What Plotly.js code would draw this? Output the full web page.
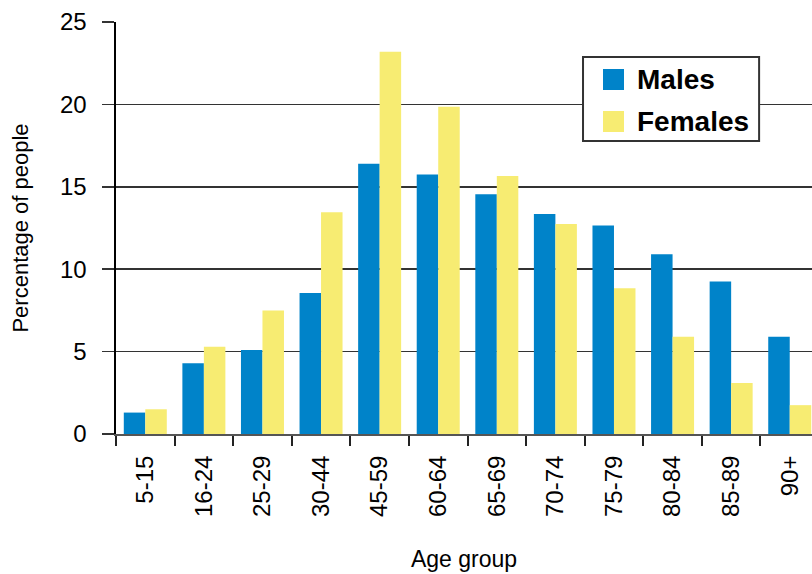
<!DOCTYPE html>
<html>
<head>
<meta charset="utf-8">
<script src="https://cdn.plot.ly/plotly-3.0.1.min.js"></script>
<style>
html,body{margin:0;padding:0;background:#fff;}
#chart{width:812px;height:574px;}
</style>
</head>
<body>
<div id="chart"></div>
<script>
const ageGroups = ["5-15","16-24","25-29","30-44","45-59","60-64","65-69","70-74","75-79","80-84","85-89","90+"];
const males   = [1.3, 4.3, 5.1, 8.55, 16.4, 15.75, 14.55, 13.35, 12.65, 10.9, 9.25, 5.9];
const females = [1.5, 5.3, 7.5, 13.45, 23.2, 19.85, 15.65, 12.75, 8.85, 5.9, 3.1, 1.75];
const seriesNames = ["Males", "Females"];
const seriesColors = ["#0083C9", "#F7EC72"];
const yTicks = [0, 5, 10, 15, 20, 25];

const FONT = '"Liberation Sans", Arial, sans-serif';

const traces = [
  {type: "bar", name: seriesNames[0], x: ageGroups, y: males,
   marker: {color: seriesColors[0], line: {width: 0}}, showlegend: false, hoverinfo: "x+y"},
  {type: "bar", name: seriesNames[1], x: ageGroups, y: females,
   marker: {color: seriesColors[1], line: {width: 0}}, showlegend: false, hoverinfo: "x+y"}
];

// legend drawn from the series names/colours (paper coordinates)
const legX0 = 0.671, legX1 = 0.924, legY0 = 0.711, legY1 = 0.915;
const swX0 = 0.6997, swX1 = 0.7299;
const rowY = [0.8604, 0.7585];
const swH = 0.0255;
const shapes = [
  {type: "rect", xref: "paper", yref: "paper", x0: legX0, x1: legX1, y0: legY0, y1: legY1,
   fillcolor: "#ffffff", line: {color: "#333333", width: 2}, layer: "above"}
];
const annotations = [];
seriesNames.forEach((n, i) => {
  shapes.push({type: "rect", xref: "paper", yref: "paper", x0: swX0, x1: swX1,
    y0: rowY[i] - swH, y1: rowY[i] + swH, fillcolor: seriesColors[i], line: {width: 0}, layer: "above"});
  annotations.push({xref: "paper", yref: "paper", x: 0.7455, y: rowY[i], xanchor: "left", yanchor: "middle",
    text: "<b>" + n + "</b>", showarrow: false, font: {family: FONT, size: 28, color: "#000"}});
});

const layout = {
  width: 812, height: 574,
  margin: {l: 116, r: 0, t: 22, b: 140, pad: 0},
  paper_bgcolor: "#ffffff", plot_bgcolor: "#ffffff",
  font: {family: FONT, color: "#000"},
  barmode: "group", bargap: 0.266, bargroupgap: 0,
  showlegend: false,
  xaxis: {
    type: "category", range: [-0.5, 11.38], tickson: "boundaries",
    ticks: "outside", ticklen: 10, tickwidth: 2, tickcolor: "#222",
    showline: true, linecolor: "#555", linewidth: 2,
    showgrid: false, zeroline: false,
    tickangle: -90, tickfont: {family: FONT, size: 24, color: "#000"},
    ticklabelstandoff: 10,
    title: {text: "Age group", font: {family: FONT, size: 23, color: "#000"}, standoff: 35},
    automargin: false, fixedrange: true
  },
  yaxis: {
    range: [0, 25], tickvals: yTicks, ticktext: yTicks.map(String),
    ticks: "outside", ticklen: 12, tickwidth: 1.5, tickcolor: "#333",
    showgrid: true, gridcolor: "#333", gridwidth: 1.5,
    showline: true, linecolor: "#000", linewidth: 2.5,
    zeroline: false,
    tickfont: {family: FONT, size: 24, color: "#000"},
    ticklabelstandoff: 10,
    title: {text: "Percentage of people", font: {family: FONT, size: 22, color: "#000"}, standoff: 26},
    automargin: false, fixedrange: true
  },
  shapes: shapes,
  annotations: annotations
};

Plotly.newPlot("chart", traces, layout, {displayModeBar: false, staticPlot: true});
</script>
</body>
</html>
